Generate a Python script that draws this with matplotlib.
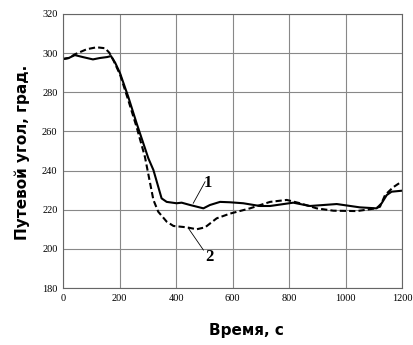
import matplotlib
matplotlib.use("Agg")
import matplotlib.pyplot as plt

# curve 1 (solid)
t1 = [0, 20, 42, 70, 106, 130, 156, 170, 185, 202, 231, 261, 302, 320, 349, 367,
      402, 420, 450, 497, 520, 556, 591, 638, 697, 733, 815, 874, 969, 1051,
      1110, 1128, 1146, 1163, 1199]
y1 = [297, 297.5, 299, 298, 296.8, 297.5, 298, 298.5, 295, 289.7, 277.7, 264, 246.3,
      240.3, 225.8, 224, 223.3, 223.6, 222.4, 220.7, 222.4, 224, 223.8, 223.3,
      221.9, 221.9, 223.6, 221.9, 222.9, 221.2, 220.7, 223.3, 227.5, 229.2, 229.7]

# curve 2 (dashed)
t2 = [0, 20, 42, 84, 119, 149, 164, 178, 202, 231, 261, 290, 320, 337, 367, 391,
      438, 473, 503, 544, 591, 662, 733, 792, 839, 898, 957, 1040, 1098, 1122,
      1140, 1169, 1199]
y2 = [297, 297.5, 299.4, 302, 303, 302.5, 300.2, 296.5, 289, 276, 262, 247, 225,
      219, 213.9, 211.7, 211, 210, 211, 215.6, 218, 220.7, 224, 225, 223.3, 220.7,
      219.5, 219.3, 220.5, 221.5, 227.5, 231.5, 234.4]

xticks = [0, 200, 400, 600, 800, 1000, 1200]
yticks = [180, 200, 220, 240, 260, 280, 300, 320]

fig = plt.figure(figsize=(4.13, 3.45), dpi=100)
ax = fig.add_axes([63 / 413, 1 - 288 / 345, 339 / 413, 274 / 345])

ax.plot(t1, y1, color="black", lw=1.5)
ax.plot(t2, y2, color="black", lw=1.5, dashes=(3, 1.5))

# curve numbers with leader lines
ax.plot([461, 503], [223.3, 234.3], color="black", lw=0.6)
ax.plot([444, 497], [210.5, 199.4], color="black", lw=0.6)
ax.text(514, 233.5, "1", family="Liberation Serif", weight="bold", fontsize=12,
        ha="center", va="center")
ax.text(520, 196, "2", family="Liberation Serif", weight="bold", fontsize=12,
        ha="center", va="center")

ax.set_xlim(0, 1200)
ax.set_ylim(180, 320)
ax.set_xticks(xticks)
ax.set_yticks(yticks)
ax.tick_params(length=0, labelsize=7.5, pad=4)
for lab in ax.get_xticklabels() + ax.get_yticklabels():
    lab.set_family("Liberation Serif")
ax.grid(True, color="#888888", lw=0.8)
for s in ax.spines.values():
    s.set_color("#666666")
    s.set_linewidth(0.8)

fig.text(246 / 413, 1 - 330 / 345, "Время, с", ha="center", va="center",
         fontsize=11, weight="bold", family="DejaVu Sans")
fig.text(22 / 413, 1 - 152 / 345, "Путевой угол, град.", ha="center", va="center",
         rotation=90, fontsize=11, weight="bold", family="DejaVu Sans")

fig.savefig("out.png", dpi=100)
